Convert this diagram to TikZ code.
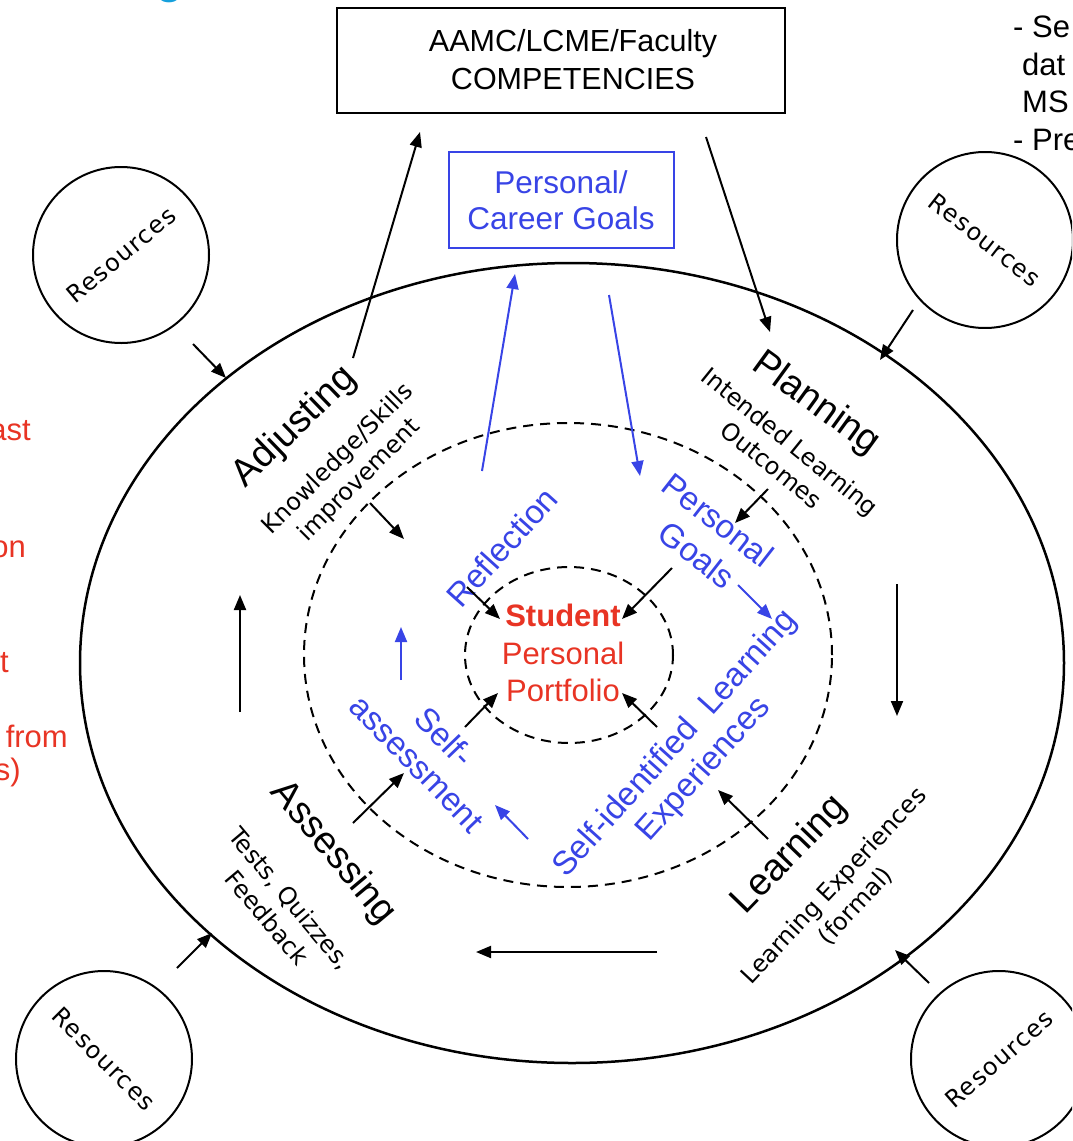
\documentclass[tikz,border=0pt]{standalone}
\usepackage{fontspec}
\setmainfont{Liberation Sans}
\newfontfamily\labelfont{DejaVu Sans}
\newfontfamily\resfont[LetterSpace=6]{DejaVu Sans}
\usepackage{tikz}
\usetikzlibrary{arrows.meta, positioning}

\definecolor{CycleBlue}{RGB}{56,68,230}
\definecolor{PortRed}{RGB}{232,52,36}
\definecolor{TitleCyan}{RGB}{22,160,220}

\tikzset{
  arr/.style={line width=2pt, -{Triangle[length=15pt, width=12pt]}},
  barr/.style={arr, CycleBlue},
  ring/.style={line width=2pt, dash pattern=on 10pt off 7pt},
  rescircle/.style={circle, draw, line width=2pt, minimum size=176pt, inner sep=0pt, font=\resfont\fontsize{24}{28}\selectfont},
  phase/.style={font=\fontsize{38}{42}\selectfont},
  detail/.style={align=center, font=\labelfont\fontsize{24}{30}\selectfont},
  innerlbl/.style={CycleBlue, align=center, font=\fontsize{33}{38}\selectfont},
  cutoff/.style={font=\fontsize{31}{37.5}\selectfont},
}

\begin{document}
\begin{tikzpicture}[x=1pt, y=-1pt]
    \useasboundingbox (0,0) rectangle (1072,1141);
    \clip (0,0) rectangle (1072,1141);

    % rings
    \draw[line width=2.5pt] (572,663) ellipse [x radius=492pt, y radius=400pt];
    \draw[ring] (568,655) ellipse [x radius=264pt, y radius=232pt];
    \draw[ring] (569,655) ellipse [x radius=104pt, y radius=88pt];

    % boxes
    \node[draw, line width=2pt, minimum width=448pt, minimum height=105pt] (comp) at (561,60) {};
    \node[align=center, font=\fontsize{30.5}{38}\selectfont] (compText) at (573,60) {AAMC/LCME/Faculty\\COMPETENCIES};
    \node[draw=CycleBlue, line width=2pt, text=CycleBlue, minimum width=225pt, minimum height=96pt, align=center, font=\fontsize{31.5}{36}\selectfont] (goals) at (561,200) {Personal/\\Career Goals};
    \node[PortRed, align=center, font=\fontsize{31}{37.5}\selectfont] (port) at (563,653) {\textbf{Student}\\Personal\\Portfolio};

    % resources
    \node[rescircle, rotate=40] (resTL) at (121,255) {Resources};
    \node[rescircle, rotate=-38] (resTR) at (985,240) {Resources};
    \node[rescircle, rotate=-45] (resBL) at (104,1059) {Resources};
    \node[rescircle, rotate=41] (resBR) at (999,1059) {Resources};

    % phases
    \node[phase, rotate=44] (adjust) at (295,427) {Adjusting};
    \node[phase, rotate=-36] (plan) at (816,404) {Planning};
    \node[phase, rotate=46] (learn) at (790,855) {Learning};
    \node[phase, rotate=-50] (assess) at (333,853) {Assessing};

    \node[detail, rotate=45] (adjustNote) at (349,470) {Knowledge/Skills\\improvement};
    \node[detail, rotate=-39] (planNote) at (781,453) {Intended Learning\\Outcomes};
    \node[detail, rotate=47] (learnNote) at (845,896) {Learning Experiences\\(formal)};
    \node[detail, rotate=-50] (assessNote) at (279,908) {Tests, Quizzes,\\Feedback};

    \node[innerlbl, rotate=48] (reflect) at (502,547) {Reflection};
    \node[innerlbl, rotate=-38] (pgoal1) at (718,520) {Personal};
    \node[innerlbl, rotate=-38] (pgoal2) at (697,555) {Goals};
    \node[innerlbl, rotate=-46] (selfAss) at (431,750) {Self-\\assessment};
    \node[innerlbl, rotate=48] (selfLearn) at (690,757) {Self-identified\ \ Learning\\Experiences};

    % arrow ends
    \coordinate (a1) at (353,358);  \coordinate (a2) at (420,132);
    \coordinate (p1) at (706,137);  \coordinate (p2) at (770,332);
    \coordinate (r1) at (482,471);  \coordinate (r2) at (515,274);
    \coordinate (g1) at (609,295);  \coordinate (g2) at (640,476);
    \coordinate (tl1) at (193,344); \coordinate (tl2) at (226,378);
    \coordinate (tr1) at (913,310); \coordinate (tr2) at (880,360);
    \coordinate (bl1) at (177,968); \coordinate (bl2) at (212,933);
    \coordinate (br1) at (929,983); \coordinate (br2) at (895,950);
    \coordinate (up1) at (240,712); \coordinate (up2) at (240,595);
    \coordinate (dn1) at (897,584); \coordinate (dn2) at (897,716);
    \coordinate (lf1) at (657,952); \coordinate (lf2) at (476,952);

    \draw[arr] (a1) -- (a2);
    \draw[arr] (p1) -- (p2);
    \draw[barr] (r1) -- (r2);
    \draw[barr] (g1) -- (g2);

    \draw[arr] (tl1) -- (tl2);
    \draw[arr] (tr1) -- (tr2);
    \draw[arr] (bl1) -- (bl2);
    \draw[arr] (br1) -- (br2);

    \draw[arr] (up1) -- (up2);
    \draw[arr] (dn1) -- (dn2);
    \draw[arr] (lf1) -- (lf2);

    \coordinate (k1) at (370,503);  \coordinate (k2) at (404,539);
    \coordinate (f1) at (467,587);  \coordinate (f2) at (500,619);
    \coordinate (o1) at (768,489);  \coordinate (o2) at (735,523);
    \coordinate (s1) at (672,568);  \coordinate (s2) at (622,619);
    \coordinate (m1) at (738,585);  \coordinate (m2) at (772,619);
    \coordinate (e1) at (465,727);  \coordinate (e2) at (498,693);
    \coordinate (t1) at (353,823);  \coordinate (t2) at (404,773);
    \coordinate (x1) at (528,839);  \coordinate (x2) at (495,805);
    \coordinate (y1) at (401,680);  \coordinate (y2) at (401,627);
    \coordinate (z1) at (657,727);  \coordinate (z2) at (622,693);
    \coordinate (w1) at (768,839);  \coordinate (w2) at (718,790);

    \draw[arr] (k1) -- (k2);
    \draw[arr] (f1) -- (f2);
    \draw[arr] (o1) -- (o2);
    \draw[arr] (s1) -- (s2);
    \draw[barr] (m1) -- (m2);
    \draw[arr] (e1) -- (e2);
    \draw[arr] (t1) -- (t2);
    \draw[barr] (x1) -- (x2);
    \draw[barr] (y1) -- (y2);
    \draw[arr] (z1) -- (z2);
    \draw[arr] (w1) -- (w2);

    % slide text cut off at the edges
    \node[TitleCyan, anchor=base, font=\fontsize{44}{44}\selectfont\bfseries] (title) at (170,-7) {g};
    \node[cutoff, anchor=north west, align=left, inner sep=0pt] (notes) at (1013,16) {- Se\\\hspace*{9pt}dat\\\hspace*{9pt}MS\\- Pre};
    \node[cutoff, PortRed, anchor=base east, inner sep=0pt] (red1) at (31,440) {ast};
    \node[cutoff, PortRed, anchor=base east, inner sep=0pt] (red2) at (26,557) {on};
    \node[cutoff, PortRed, anchor=base east, inner sep=0pt] (red3) at (9,672) {t};
    \node[cutoff, PortRed, anchor=base east, inner sep=0pt] (red4) at (68,747) {from};
    \node[cutoff, PortRed, anchor=base east, inner sep=0pt] (red5) at (21,780) {s)};
\end{tikzpicture}
\end{document}
